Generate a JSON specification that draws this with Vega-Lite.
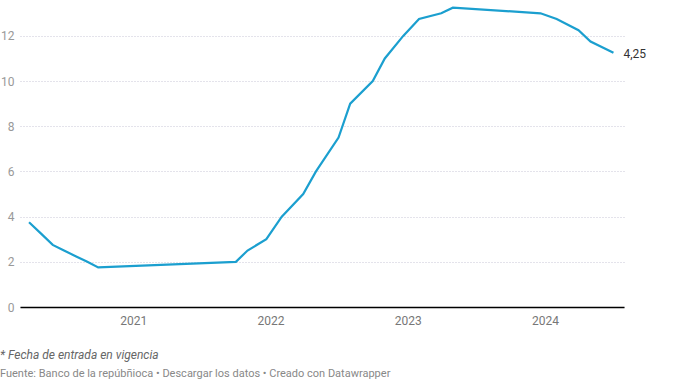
{
  "$schema": "https://vega.github.io/schema/vega-lite/v6.json",
  "autosize": {"type": "none"},
  "padding": {"left": 20, "top": 2, "right": 55, "bottom": 80},
  "width": 604,
  "height": 305,
  "background": "white",
  "config": {
    "font": "Roboto",
    "view": {"stroke": null}
  },
  "title": {
    "text": "* Fecha de entrada en vigencia",
    "subtitle": "Fuente: Banco de la repúbñioca • Descargar los datos • Creado con Datawrapper",
    "orient": "bottom",
    "anchor": "start",
    "frame": "group",
    "dx": -20,
    "offset": 24,
    "font": "Roboto",
    "fontSize": 12,
    "fontStyle": "italic",
    "fontWeight": "normal",
    "color": "#666666",
    "subtitleFont": "Roboto",
    "subtitleFontSize": 11,
    "subtitleColor": "#888888",
    "subtitlePadding": 6
  },
  "datasets": {
    "rates": [
      {"date": "2020-03-30", "rate": 3.75},
      {"date": "2020-05-01", "rate": 3.25},
      {"date": "2020-06-01", "rate": 2.75},
      {"date": "2020-07-01", "rate": 2.5},
      {"date": "2020-08-01", "rate": 2.25},
      {"date": "2020-09-01", "rate": 2.0},
      {"date": "2020-09-30", "rate": 1.75},
      {"date": "2021-10-01", "rate": 2.0},
      {"date": "2021-11-01", "rate": 2.5},
      {"date": "2021-12-21", "rate": 3.0},
      {"date": "2022-01-31", "rate": 4.0},
      {"date": "2022-03-29", "rate": 5.0},
      {"date": "2022-05-02", "rate": 6.0},
      {"date": "2022-07-01", "rate": 7.5},
      {"date": "2022-08-01", "rate": 9.0},
      {"date": "2022-09-30", "rate": 10.0},
      {"date": "2022-11-01", "rate": 11.0},
      {"date": "2022-12-20", "rate": 12.0},
      {"date": "2023-01-31", "rate": 12.75},
      {"date": "2023-03-31", "rate": 13.0},
      {"date": "2023-05-01", "rate": 13.25},
      {"date": "2023-12-20", "rate": 13.0},
      {"date": "2024-02-01", "rate": 12.75},
      {"date": "2024-03-30", "rate": 12.25},
      {"date": "2024-05-01", "rate": 11.75},
      {"date": "2024-07-01", "rate": 11.25}
    ],
    "endlabel": [
      {"date": "2024-07-01", "rate": 11.25, "label": "4,25"}
    ]
  },
  "encoding": {
    "x": {
      "field": "date",
      "type": "temporal",
      "scale": {
        "type": "utc",
        "domain": [
          {"year": 2020, "month": 3, "date": 6, "utc": true},
          {"year": 2024, "month": 7, "date": 29, "utc": true}
        ]
      },
      "axis": {
        "title": null,
        "values": [
          {"year": 2021, "month": 1, "date": 1, "utc": true},
          {"year": 2022, "month": 1, "date": 1, "utc": true},
          {"year": 2023, "month": 1, "date": 1, "utc": true},
          {"year": 2024, "month": 1, "date": 1, "utc": true}
        ],
        "format": "%Y",
        "formatType": "utc",
        "ticks": false,
        "grid": false,
        "domain": true,
        "domainColor": "#000000",
        "domainWidth": 1.5,
        "labelFont": "Roboto",
        "labelFontSize": 12,
        "labelColor": "#777777",
        "labelPadding": 8
      }
    },
    "y": {
      "field": "rate",
      "type": "quantitative",
      "scale": {"domain": [0, 13.5], "nice": false},
      "axis": {
        "title": null,
        "values": [0, 2, 4, 6, 8, 10, 12],
        "ticks": false,
        "domain": false,
        "grid": true,
        "gridColor": "#c9c6d6",
        "gridDash": [1, 2],
        "gridWidth": 1,
        "labelFont": "Roboto",
        "labelFontSize": 12,
        "labelColor": "#999999",
        "labelPadding": 6,
        "labelBaseline": "middle"
      }
    }
  },
  "layer": [
    {
      "data": {"name": "rates"},
      "mark": {"type": "line", "color": "#1b9fcf", "strokeWidth": 2.2, "interpolate": "linear"}
    },
    {
      "data": {"name": "endlabel"},
      "mark": {"type": "text", "align": "left", "baseline": "middle", "dx": 10, "dy": 1, "font": "Roboto", "fontSize": 12, "color": "#333333"},
      "encoding": {"text": {"field": "label"}}
    }
  ]
}
